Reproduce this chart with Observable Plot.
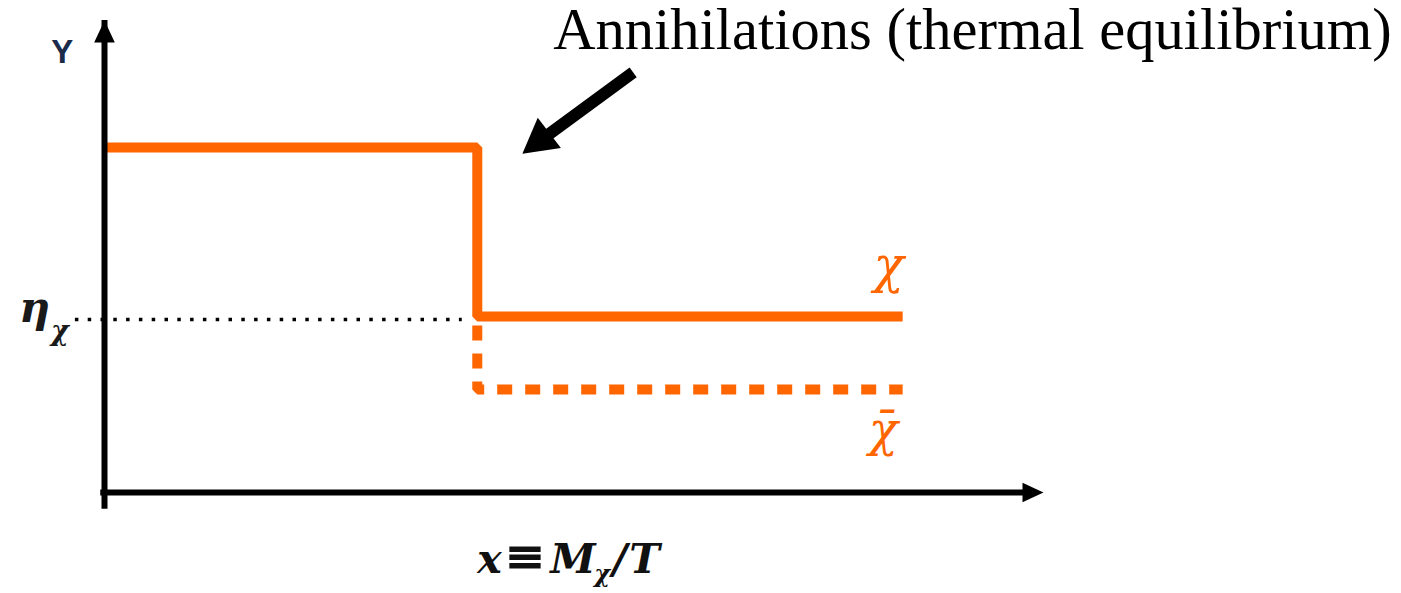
<!DOCTYPE html>
<html>
<head>
<meta charset="utf-8">
<script src="https://cdn.jsdelivr.net/npm/d3@7"></script>
<script src="https://cdn.jsdelivr.net/npm/@observablehq/plot@0.6"></script>
<style>
  html, body { margin: 0; padding: 0; background: #ffffff; }
  #chart svg { display: block; }
</style>
</head>
<body>
<div id="chart"></div>
<script>
// ---- Data (chart units: horizontal = x ≡ Mχ/T, vertical = Y) ----
const xStep = 3.97;      // where annihilations freeze out
const xStart = 0.02;
const xEnd = 8.5;
const yEarly = 7.34;     // Y in thermal equilibrium
const yChi = 3.745;      // final Y of χ
const yChiBar = 2.19;    // final Y of χ̄
const etaChi = 3.68;     // asymmetry level η_χ
const etaFrom = -0.31;
const etaTo = 3.81;

const chiPts = [
  {x: xStart, y: yEarly}, {x: xStep, y: yEarly},
  {x: xStep, y: yChi}, {x: xEnd, y: yChi}
];
const chiBarPts = [
  {x: xStep, y: yChi}, {x: xStep, y: yChiBar}, {x: xEnd, y: yChiBar}
];

const axisX = [{x1: -0.04, x2: 10.0, y: 0}];
const axisY = [{y1: -0.06, y2: 10.04, x: 0}];
const noteArrow = [{x1: 5.63, y1: 8.94, x2: 4.45, y2: 7.21}];

const title = [{x: 4.78, y: 9.43, text: "Annihilations (thermal equilibrium)"}];
const yLabel = [{x: -0.45, y: 9.13, text: "Y"}];
const etaLabel = [{x: -0.91, y: 3.62, text: "η", sub: "χ"}];
const chiLabel = [{x: 8.19, y: 4.47, text: "χ"}];
const chiBarLabel = [{x: 8.14, y: 0.98, text: "χ\u0304"}];
const xLabel = [{x: 3.97, y: -1.72, v: "x", eq: "≡", m: "M", sub: "χ", slash: "/", t: "T"}];

const orange = "#ff6600";
const serif = "Liberation Serif, Times New Roman, serif";
const math = "DejaVu Serif, serif";

// custom filled arrowhead: tip at origin, body below
function head(ratio) {
  return {
    draw(context, size) {
      const L = Math.sqrt(size / Math.PI);
      context.moveTo(0, 0);
      context.lineTo(-L * ratio, L);
      context.lineTo(L * ratio, L);
      context.closePath();
    }
  };
}

const mathText = (field, opts) => Plot.text(xLabel, {
  x: "x", y: "y", text: field, textAnchor: "start", lineAnchor: "bottom",
  fontFamily: math, fontStyle: "italic", fontWeight: "bold", fontSize: 41, fill: "#111", ...opts
});

const plot = Plot.plot({
  width: 1401,
  height: 593,
  marginTop: 0, marginRight: 0, marginBottom: 0, marginLeft: 0,
  x: {domain: [0, 10], range: [104, 1043], axis: null},
  y: {domain: [0, 10], range: [492, 22], axis: null},
  style: {background: "#ffffff", overflow: "visible"},
  marks: [
    // eta dotted level
    Plot.ruleY([etaChi], {x1: etaFrom, x2: etaTo, stroke: "#000", strokeWidth: 3.5, strokeDasharray: "3.5,9.3"}),
    // chi-bar dashed
    Plot.line(chiBarPts, {x: "x", y: "y", stroke: orange, strokeWidth: 10, strokeDasharray: "15,13", strokeDashoffset: 19, strokeLinecap: "butt", strokeLinejoin: "miter", curve: "linear"}),
    // chi solid
    Plot.line(chiPts, {x: "x", y: "y", stroke: orange, strokeWidth: 10, strokeLinecap: "butt", strokeLinejoin: "miter", curve: "linear"}),
    // axes
    Plot.ruleY(axisX, {x1: "x1", x2: "x2", y: "y", stroke: "#000", strokeWidth: 6, insetRight: 14}),
    Plot.ruleX(axisY, {y1: "y1", y2: "y2", x: "x", stroke: "#000", strokeWidth: 6, insetTop: 14}),
    Plot.dot(axisX, {x: "x2", y: "y", symbol: head(0.47), r: 21, fill: "#000", stroke: "none", rotate: 90}),
    Plot.dot(axisY, {x: "x", y: "y2", symbol: head(0.47), r: 22, fill: "#000", stroke: "none", rotate: 0}),
    // annotation arrow
    Plot.arrow(noteArrow, {x1: "x1", y1: "y1", x2: "x2", y2: "y2", stroke: "#000", strokeWidth: 12, headLength: 0, insetEnd: 20, strokeLinecap: "butt"}),
    Plot.dot(noteArrow, {x: "x2", y: "y2", symbol: head(0.56), r: 34, fill: "#000", stroke: "none", rotate: 232.5}),
    // texts
    Plot.text(title, {x: "x", y: "y", text: "text", textAnchor: "start", lineAnchor: "bottom", fontFamily: serif, fontSize: 58.5, fill: "#000"}),
    Plot.text(yLabel, {x: "x", y: "y", text: "text", textAnchor: "middle", lineAnchor: "bottom", fontFamily: "Liberation Sans, Arial, sans-serif", fontSize: 33, fontWeight: "bold", fill: "#1b2b4a"}),
    Plot.text(etaLabel, {x: "x", y: "y", text: "text", textAnchor: "start", lineAnchor: "bottom", fontFamily: math, fontStyle: "italic", fontWeight: "bold", fontSize: 43, fill: "#1a1a1a"}),
    Plot.text(etaLabel, {x: "x", y: "y", text: "sub", textAnchor: "start", lineAnchor: "bottom", fontFamily: math, fontStyle: "italic", fontWeight: "bold", fontSize: 27, dx: 32, dy: 18, fill: "#1a1a1a"}),
    Plot.text(chiLabel, {x: "x", y: "y", text: "text", textAnchor: "start", lineAnchor: "bottom", fontFamily: math, fontStyle: "italic", fontSize: 50, fill: orange}),
    Plot.text(chiBarLabel, {x: "x", y: "y", text: "text", textAnchor: "start", lineAnchor: "bottom", fontFamily: math, fontStyle: "italic", fontSize: 48, fill: orange}),
    mathText("v", {}),
    mathText("eq", {dx: 27, fontStyle: "normal", fontSize: 50}),
    mathText("m", {dx: 73}),
    mathText("sub", {dx: 117, dy: 9, fontSize: 24}),
    mathText("slash", {dx: 135}),
    mathText("t", {dx: 152})
  ]
});

document.getElementById("chart").appendChild(plot);
</script>
</body>
</html>
